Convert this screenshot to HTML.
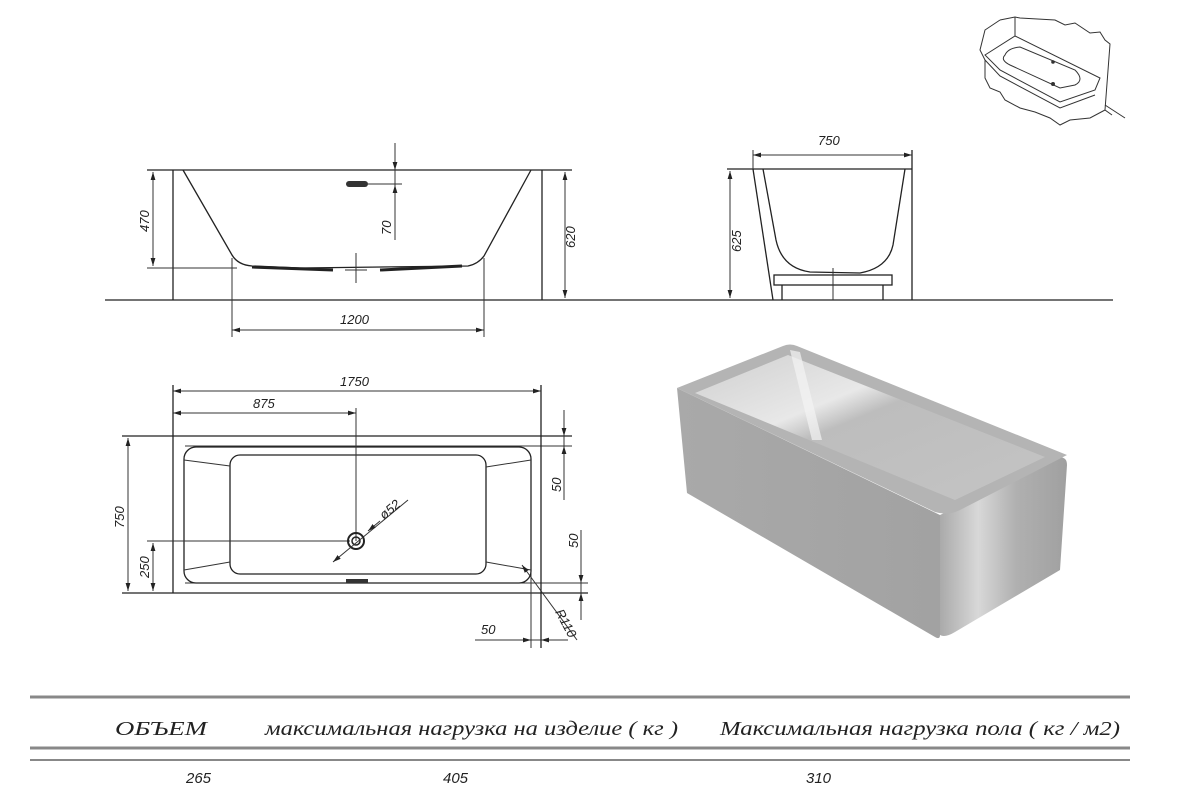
<!DOCTYPE html>
<html><head><meta charset="utf-8"><style>
html,body{margin:0;padding:0;background:#fff;}
svg{display:block;}
.l{stroke:#222;stroke-width:1.3;fill:none;}
.t{stroke:#333;stroke-width:1;fill:none;}
.d{font-family:"Liberation Sans",sans-serif;font-style:italic;font-size:13px;fill:#222;}
.h{font-family:"Liberation Serif","Noto Serif CJK SC",serif;font-style:italic;font-size:20px;fill:#222;}
</style></head><body>
<svg width="1200" height="800" viewBox="0 0 1200 800" xmlns="http://www.w3.org/2000/svg">
<defs>
<marker id="a" viewBox="0 0 10 6" refX="10" refY="3" markerWidth="8" markerHeight="5" orient="auto-start-reverse"><path d="M0,0L10,3L0,6z" fill="#222"/></marker>
<linearGradient id="g1" x1="0" y1="0" x2="1" y2="0"><stop offset="0" stop-color="#a9a9a9"/><stop offset="1" stop-color="#a2a2a2"/></linearGradient>
<linearGradient id="g2" x1="0" y1="0" x2="1" y2="0"><stop offset="0" stop-color="#aaa"/><stop offset="0.3" stop-color="#d8d8d8"/><stop offset="0.6" stop-color="#b0b0b0"/><stop offset="1" stop-color="#a0a0a0"/></linearGradient>
<linearGradient id="g3" x1="0" y1="0" x2="1" y2="1"><stop offset="0" stop-color="#cfcfcf"/><stop offset="0.35" stop-color="#e8e8e8"/><stop offset="0.45" stop-color="#bdbdbd"/><stop offset="1" stop-color="#c4c4c4"/></linearGradient>
</defs>

<!-- floor line -->
<line class="l" x1="105" y1="300" x2="1113" y2="300"/>

<!-- FRONT VIEW -->
<line class="l" x1="147" y1="170" x2="572" y2="170"/>
<line class="l" x1="173" y1="170" x2="173" y2="300"/>
<line class="l" x1="542" y1="170" x2="542" y2="300"/>
<path class="l" d="M183,170 L232,255 Q238,265 252,266 L300,268 L468,266 Q478,264 484,256 L531,170"/>
<path d="M252,267 L333,270 M380,270 L462,266" stroke="#222" stroke-width="3"/>
<line class="t" x1="147" y1="268" x2="237" y2="268"/>
<line class="t" x1="356" y1="253" x2="356" y2="283"/>
<line class="t" x1="345" y1="270" x2="367" y2="270"/>
<line class="t" x1="232" y1="258" x2="232" y2="337"/>
<line class="t" x1="484" y1="258" x2="484" y2="337"/>
<line class="t" x1="232" y1="330" x2="484" y2="330" marker-start="url(#a)" marker-end="url(#a)"/>
<text class="d" x="340" y="324">1200</text>
<line class="t" x1="153" y1="172" x2="153" y2="266" marker-start="url(#a)" marker-end="url(#a)"/>
<text class="d" transform="translate(149,232) rotate(-90)">470</text>
<line class="t" x1="565" y1="172" x2="565" y2="298" marker-start="url(#a)" marker-end="url(#a)"/>
<text class="d" transform="translate(575,248) rotate(-90)">620</text>
<rect x="346" y="181" width="22" height="6" rx="3" fill="#333"/>
<line class="t" x1="368" y1="184" x2="402" y2="184"/>
<line class="t" x1="395" y1="143" x2="395" y2="240"/>
<line class="t" x1="395" y1="150" x2="395" y2="170" marker-end="url(#a)"/>
<line class="t" x1="395" y1="204" x2="395" y2="185" marker-end="url(#a)"/>
<text class="d" transform="translate(391,235) rotate(-90)">70</text>

<!-- SIDE VIEW -->
<line class="l" x1="727" y1="169" x2="912" y2="169"/>
<line class="l" x1="753" y1="169" x2="773" y2="300"/>
<line class="l" x1="912" y1="150" x2="912" y2="300"/>
<line class="t" x1="753" y1="150" x2="753" y2="169"/>
<path class="l" d="M763,169 L776,240 Q782,268 810,272 L860,273 Q888,268 893,245 L905,169"/>
<rect class="l" x="774" y="275" width="118" height="10"/>
<line class="l" x1="782" y1="285" x2="782" y2="300"/>
<line class="l" x1="883" y1="285" x2="883" y2="300"/>
<line class="t" x1="833" y1="268" x2="833" y2="300"/>
<line class="t" x1="753" y1="155" x2="912" y2="155" marker-start="url(#a)" marker-end="url(#a)"/>
<text class="d" x="818" y="145">750</text>
<line class="t" x1="730" y1="171" x2="730" y2="298" marker-start="url(#a)" marker-end="url(#a)"/>
<text class="d" transform="translate(741,252) rotate(-90)">625</text>

<!-- TOP VIEW -->
<line class="l" x1="122" y1="436" x2="572" y2="436"/>
<line class="l" x1="122" y1="593" x2="588" y2="593"/>
<line class="t" x1="185" y1="446" x2="572" y2="446"/>
<line class="t" x1="185" y1="583" x2="588" y2="583"/>
<line class="l" x1="173" y1="385" x2="173" y2="593"/>
<line class="l" x1="541" y1="385" x2="541" y2="648"/>
<line class="t" x1="531" y1="560" x2="531" y2="648"/>
<rect class="l" x="184" y="447" width="347" height="136" rx="12"/>
<rect class="l" x="230" y="455" width="256" height="119" rx="10"/>
<line class="t" x1="184" y1="460" x2="230" y2="466"/>
<line class="t" x1="184" y1="570" x2="230" y2="562"/>
<line class="t" x1="531" y1="460" x2="486" y2="467"/>
<line class="t" x1="531" y1="570" x2="486" y2="562"/>
<line class="t" x1="356" y1="408" x2="356" y2="541"/>
<line class="t" x1="147" y1="541" x2="350" y2="541"/>
<circle cx="356" cy="541" r="8" fill="none" stroke="#222" stroke-width="2"/>
<circle cx="356" cy="541" r="4" fill="none" stroke="#222" stroke-width="1.5"/>
<line class="t" x1="333" y1="562" x2="408" y2="500" marker-start="url(#a)"/>
<line class="t" x1="368" y1="531" x2="380" y2="521" marker-start="url(#a)"/>
<text class="d" transform="translate(384,520) rotate(-40)">ø52</text>
<rect x="346" y="579" width="22" height="4" fill="#333"/>
<line class="t" x1="173" y1="391" x2="541" y2="391" marker-start="url(#a)" marker-end="url(#a)"/>
<text class="d" x="340" y="386">1750</text>
<line class="t" x1="173" y1="413" x2="356" y2="413" marker-start="url(#a)" marker-end="url(#a)"/>
<text class="d" x="253" y="408">875</text>
<line class="t" x1="128" y1="438" x2="128" y2="591" marker-start="url(#a)" marker-end="url(#a)"/>
<text class="d" transform="translate(124,528) rotate(-90)">750</text>
<line class="t" x1="153" y1="543" x2="153" y2="591" marker-start="url(#a)" marker-end="url(#a)"/>
<text class="d" transform="translate(149,578) rotate(-90)">250</text>
<line class="t" x1="564" y1="410" x2="564" y2="500"/>
<line class="t" x1="564" y1="420" x2="564" y2="436" marker-end="url(#a)"/>
<line class="t" x1="564" y1="462" x2="564" y2="446" marker-end="url(#a)"/>
<text class="d" transform="translate(561,492) rotate(-90)">50</text>
<line class="t" x1="581" y1="530" x2="581" y2="620"/>
<line class="t" x1="581" y1="570" x2="581" y2="583" marker-end="url(#a)"/>
<line class="t" x1="581" y1="606" x2="581" y2="593" marker-end="url(#a)"/>
<text class="d" transform="translate(578,548) rotate(-90)">50</text>
<line class="t" x1="522" y1="565" x2="577" y2="640" marker-start="url(#a)"/>
<text class="d" transform="translate(555,612) rotate(62)">R110</text>
<line class="t" x1="475" y1="640" x2="568" y2="640"/>
<line class="t" x1="517" y1="640" x2="531" y2="640" marker-end="url(#a)"/>
<line class="t" x1="556" y1="640" x2="541" y2="640" marker-end="url(#a)"/>
<text class="d" x="481" y="634">50</text>

<!-- 3D RENDER -->
<path d="M677,388 L940,515 L940,635 Q940,640 935,637 L687,493 Z" fill="url(#g1)"/>
<path d="M940,515 L1055,458 Q1067,455 1067,465 L1060,570 L955,632 Q945,638 940,635 Z" fill="url(#g2)"/>
<path d="M677,388 L783,346 Q790,343 797,346 L1067,455 L960,510 Q948,516 935,512 Z" fill="#b4b4b4"/>
<path d="M695,393 L788,355 L1045,457 L955,500 Z" fill="url(#g3)"/>
<path d="M790,350 L800,352 L822,440 L812,440 Z" fill="#f4f4f4" opacity="0.7"/>

<!-- THUMBNAIL -->
<g class="t" stroke-width="0.9">
<path d="M1000,20 L1015,17 L1020,18 L1055,20 L1065,25 L1075,23 L1090,33 L1100,32 L1105,40 L1110,44 L1105,110 L1112,115"/>
<path d="M1000,20 L985,30 L980,50 L985,60 L985,78 L990,88 L1000,92 L1005,100 L1020,108 L1035,112 L1050,118 L1060,125 L1070,120 L1090,118 L1105,110"/>
<line x1="1015" y1="17" x2="1015" y2="36"/>
<line x1="1105" y1="105" x2="1125" y2="118"/>
<path d="M985,55 L1015,36 L1100,78 L1095,90 L1060,102 L1000,70 Z"/>
<path d="M985,60 L1000,76 L1060,108 L1095,95"/>
<path d="M1005,55 Q1008,48 1020,47 L1075,70 Q1085,80 1075,85 L1060,88 L1010,65 Q1000,60 1005,55 Z"/>
<circle cx="1053" cy="84" r="1.5" fill="#333"/>
<circle cx="1053" cy="62" r="1.3" fill="#333"/>
</g>

<!-- TABLE -->
<line x1="30" y1="697" x2="1130" y2="697" stroke="#888" stroke-width="3"/>
<line x1="30" y1="748" x2="1130" y2="748" stroke="#888" stroke-width="3"/>
<line x1="30" y1="760" x2="1130" y2="760" stroke="#888" stroke-width="2"/>
<text class="h" x="115" y="735" textLength="92" lengthAdjust="spacingAndGlyphs">ОБЪЕМ</text>
<text class="h" x="265" y="735" textLength="413" lengthAdjust="spacingAndGlyphs">максимальная нагрузка на изделие ( кг )</text>
<text class="h" x="720" y="735" textLength="400" lengthAdjust="spacingAndGlyphs">Максимальная нагрузка пола ( кг / м2)</text>
<text class="d" x="186" y="783" style="font-size:15px">265</text>
<text class="d" x="443" y="783" style="font-size:15px">405</text>
<text class="d" x="806" y="783" style="font-size:15px">310</text>
</svg>
</body></html>
